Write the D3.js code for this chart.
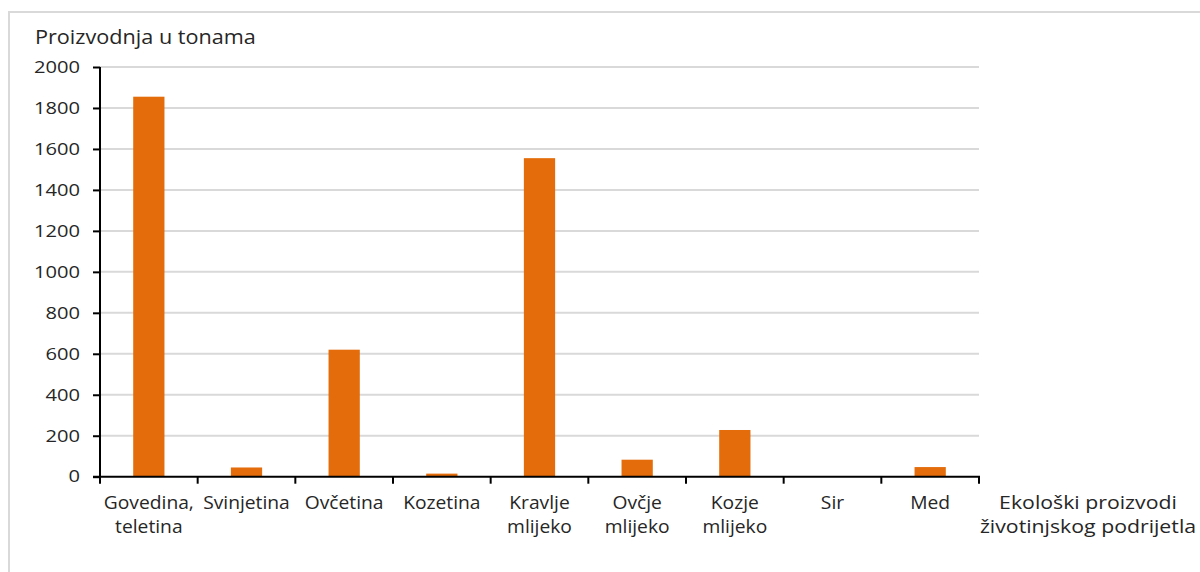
<!DOCTYPE html>
<html>
<head>
<meta charset="utf-8">
<script src="https://cdn.jsdelivr.net/npm/d3@7"></script>
<style>
  body { margin: 0; background: #fff; }
  text { font-family: "Open Sans", sans-serif; fill: #262626; }
  .stretch { transform-box: fill-box; }
</style>
</head>
<body>
<div id="chart"></div>
<script>
// Data
const categories = [
    ["Govedina,", "teletina"],
    ["Svinjetina"],
    ["Ovčetina"],
    ["Kozetina"],
    ["Kravlje", "mlijeko"],
    ["Ovčje", "mlijeko"],
    ["Kozje", "mlijeko"],
    ["Sir"],
    ["Med"]
];
const values = [1855, 45, 620, 15, 1555, 83, 228, 0, 47];
const yTicks = [0, 200, 400, 600, 800, 1000, 1200, 1400, 1600, 1800, 2000];
const yTitle = "Proizvodnja u tonama";
const xTitle = ["Ekološki proizvodi", "životinjskog podrijetla"];

const width = 1200, height = 572;
const margin = {top: 67, right: 221, bottom: 95, left: 100};

const svg = d3.select("#chart").append("svg")
    .attr("width", width)
    .attr("height", height);

// Outer frame
svg.append("rect")
    .attr("x", 9)
    .attr("y", 12)
    .attr("width", width + 20)
    .attr("height", height + 20)
    .attr("fill", "none")
    .attr("stroke", "#d9d9d9")
    .attr("stroke-width", 2);

const x = d3.scaleBand()
    .domain(d3.range(categories.length))
    .range([margin.left, width - margin.right])
    .paddingInner(0.68)
    .paddingOuter(0.34);

const y = d3.scaleLinear()
    .domain([0, 2000])
    .range([height - margin.bottom - 0.3, margin.top]);

//Gridlines
svg.append("g")
    .selectAll("line")
    .data(yTicks.filter(d => d > 0))
    .enter()
    .append("line")
    .attr("x1", margin.left)
    .attr("x2", width - margin.right)
    .attr("y1", d => y(d))
    .attr("y2", d => y(d))
    .attr("stroke", "#d9d9d9")
    .attr("stroke-width", 2);

//Bars
svg.append("g")
    .selectAll("rect")
    .data(values)
    .enter()
    .append("rect")
    .attr("x", (d, i) => x(i))
    .attr("y", d => y(d))
    .attr("width", x.bandwidth())
    .attr("height", d => y(0) - y(d))
    .attr("fill", "#e46c0a");

//Y axis
const yAxis = svg.append("g")
    .attr("transform", "translate(" + margin.left + ",0)")
    .call(d3.axisLeft(y).tickValues(yTicks).tickFormat(d3.format("d")).tickSize(7).tickPadding(13));
yAxis.select(".domain").attr("stroke", "#000").attr("stroke-width", 2)
    .attr("d", "M0," + y(2000) + "V" + y(0));
yAxis.selectAll(".tick line").attr("stroke", "#000").attr("stroke-width", 2);
yAxis.selectAll(".tick text")
    .attr("class", "stretch")
    .style("font-size", "16.5px")
    .style("font-family", "Open Sans, sans-serif")
    .style("transform-origin", "right center")
    .style("transform", "scaleX(1.22)")
    .attr("fill", "#262626");

//X axis with ticks at band boundaries
const boundaries = d3.range(categories.length + 1)
    .map(i => margin.left + i * (width - margin.right - margin.left) / categories.length);
const xAxis = svg.append("g");
xAxis.append("line")
    .attr("x1", margin.left - 7)
    .attr("x2", width - margin.right + 1)
    .attr("y1", y(0))
    .attr("y2", y(0))
    .attr("stroke", "#000")
    .attr("stroke-width", 2);
xAxis.selectAll(".xtick")
    .data(boundaries)
    .enter()
    .append("line")
    .attr("class", "xtick")
    .attr("x1", d => d)
    .attr("x2", d => d)
    .attr("y1", y(0))
    .attr("y2", y(0) + 7)
    .attr("stroke", "#000")
    .attr("stroke-width", 2);

//Category labels
const labels = svg.append("g")
    .selectAll("text")
    .data(categories)
    .enter()
    .append("text")
    .attr("class", "stretch")
    .attr("x", (d, i) => x(i) + x.bandwidth() / 2)
    .attr("y", 509)
    .attr("text-anchor", "middle")
    .style("font-size", "18.5px")
    .style("transform-origin", "center")
    .style("transform", "scaleX(1.04)");
labels.selectAll("tspan")
    .data(d => d)
    .enter()
    .append("tspan")
    .attr("x", function() { return d3.select(this.parentNode).attr("x"); })
    .attr("dy", (d, i) => i === 0 ? 0 : 24)
    .text(d => d);

//Axis titles
svg.append("text")
    .attr("class", "stretch")
    .attr("x", 35)
    .attr("y", 44)
    .style("font-size", "19.5px")
    .style("transform-origin", "left center")
    .style("transform", "scaleX(1.11)")
    .text(yTitle);

const xt = svg.append("text")
    .attr("class", "stretch")
    .attr("x", 1088)
    .attr("y", 509)
    .attr("text-anchor", "middle")
    .style("font-size", "18.5px")
    .style("transform-origin", "center")
    .style("transform", "scaleX(1.15)");
xt.selectAll("tspan")
    .data(xTitle)
    .enter()
    .append("tspan")
    .attr("x", 1088)
    .attr("dy", (d, i) => i === 0 ? 0 : 24)
    .text(d => d);
</script>
</body>
</html>
